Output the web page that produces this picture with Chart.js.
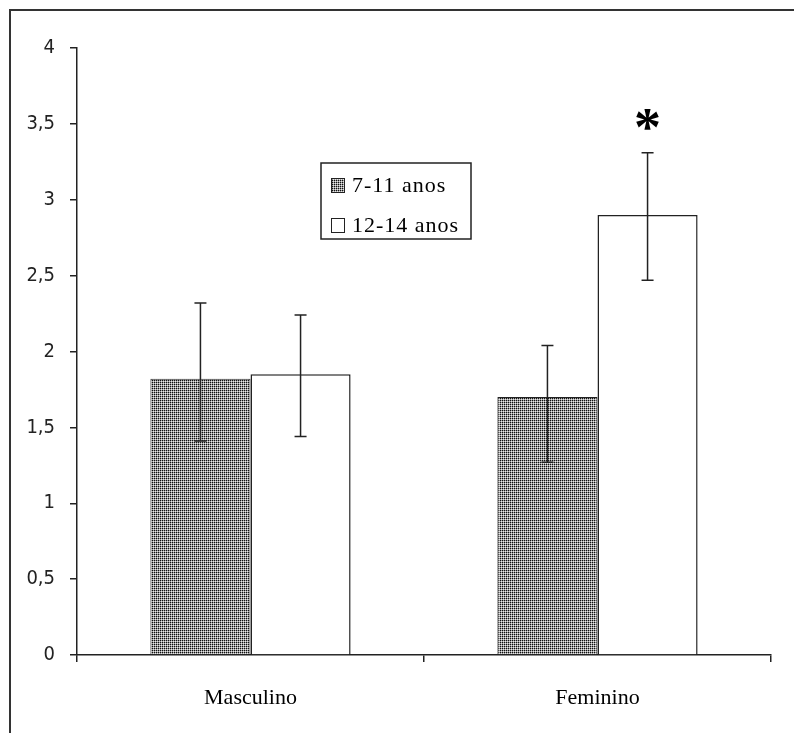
<!DOCTYPE html>
<html>
<head>
<meta charset="utf-8">
<script src="https://cdn.jsdelivr.net/npm/chart.js@4.4.1/dist/chart.umd.min.js"></script>
<style>
  body { margin: 0; background: #fff; overflow: hidden; }
  #frame { position: absolute; left: 9px; top: 9px; width: 900px; height: 900px; border-left: 2px solid #333; border-top: 2px solid #333; }
  #wrap { position: absolute; left: 0; top: 0; width: 794px; height: 733px; }
</style>
</head>
<body>
<div id="frame"></div>
<div id="wrap"><canvas id="myChart" width="794" height="733"></canvas></div>
<script>
// data
const categories = ['Masculino', 'Feminino'];
const seriesNames = ['7-11 anos', '12-14 anos'];
const young = [1.82, 1.70];
const older = [1.85, 2.90];
// error bars (upper / lower arm lengths)
const youngUp = [0.50, 0.34];
const youngDown = [0.41, 0.43];
const olderUp = [0.39, 0.41];
const olderDown = [0.41, 0.43];
const marks = [[null, null], [null, '*']];   // significance marks per category / series

// dotted grey fill for the first series
const makePattern = () => {
  const c = document.createElement('canvas');
  c.width = 2; c.height = 2;
  const g = c.getContext('2d');
  g.fillStyle = '#999'; g.fillRect(0, 0, 2, 2);
  g.fillStyle = '#111'; g.fillRect(0, 0, 1, 1);
  g.fillStyle = '#e8e8e8'; g.fillRect(1, 1, 1, 1);
  return g.createPattern(c, 'repeat');
}
const dotted = makePattern();

const errorBars = {
  id: 'errorBars',
  afterDatasetsDraw(chart) {
    const ctx = chart.ctx;
    const y = chart.scales.y;
    const ups = [youngUp, olderUp];
    const downs = [youngDown, olderDown];
    ctx.save();
    ctx.strokeStyle = '#222';
    ctx.lineWidth = 1.5;
    chart.data.datasets.forEach((ds, di) => {
      chart.getDatasetMeta(di).data.forEach((bar, i) => {
        const v = ds.data[i];
        const top = y.getPixelForValue(v + ups[di][i]), bot = y.getPixelForValue(v - downs[di][i]);
        ctx.beginPath();
        ctx.moveTo(bar.x, top); ctx.lineTo(bar.x, bot);
        ctx.moveTo(bar.x - 6, top); ctx.lineTo(bar.x + 6, top);
        ctx.moveTo(bar.x - 6, bot); ctx.lineTo(bar.x + 6, bot);
        ctx.stroke();
        const m = marks[i][di];
        if (m) {
          ctx.fillStyle = '#000';
          ctx.font = 'bold 54px "Liberation Serif"';
          ctx.textAlign = 'center';
          ctx.textBaseline = 'middle';
          ctx.fillText(m, bar.x, top - 22);
        }
      });
    });
    ctx.restore();
  }
};

const boxLegend = {
  id: 'boxLegend',
  afterDraw(chart) {
    const ctx = chart.ctx;
    const a = chart.chartArea;
    const x0 = a.left + 244, y0 = a.top + 115;
    ctx.save();
    ctx.strokeStyle = '#222';
    ctx.lineWidth = 1.5;
    ctx.fillStyle = '#fff';
    ctx.fillRect(x0, y0, 150, 76);
    ctx.strokeRect(x0, y0, 150, 76);
    ctx.font = '22px "Liberation Serif"';
    ctx.letterSpacing = '1px';
    ctx.textBaseline = 'middle';
    ctx.textAlign = 'left';
    ctx.lineWidth = 1;
    chart.data.datasets.forEach((ds, i) => {
      const cy = y0 + 22 + i * 40;
      ctx.fillStyle = ds.backgroundColor;
      ctx.fillRect(x0 + 10, cy - 7, 13, 14);
      ctx.strokeRect(x0 + 10.5, cy - 6.5, 13, 14);
      ctx.fillStyle = '#000';
      ctx.fillText(ds.label, x0 + 31, cy + 1);
    });
    ctx.restore();
  }
};

const ctx = document.getElementById('myChart').getContext('2d');
const chart = new Chart(ctx, {
  type: 'bar',
  data: {
    labels: categories,
    datasets: [{
      label: seriesNames[0],
      data: young,
      backgroundColor: dotted,
      borderColor: '#222',
      borderWidth: 1,
    }, {
      label: seriesNames[1],
      data: older,
      backgroundColor: '#fff',
      borderColor: '#222',
      borderWidth: 1.5,
    }]
  },
  options: {
    responsive: false,
    animation: false,
    layout: { padding: { left: 20, top: 48, right: 23, bottom: 28 } },
    categoryPercentage: 0.577,
    barPercentage: 1.0,
    plugins: {
      legend: { display: false },
      tooltip: { enabled: false },
    },
    scales: {
      x: {
        afterFit: (s) => { s.height = 50; },
        border: { color: '#222', width: 1.5 },
        grid: { offset: true, drawOnChartArea: false, tickLength: 7, color: '#222', lineWidth: 1.5 },
        ticks: { color: '#000', padding: 23, font: { family: '"Liberation Serif"', size: 22 } },
      },
      y: {
        min: 0,
        max: 4,
        afterFit: (s) => { s.width = 57; },
        border: { color: '#222', width: 1.5 },
        grid: { drawOnChartArea: false, tickLength: 7, color: '#222', lineWidth: 1.5 },
        ticks: {
          stepSize: 0.5,
          color: '#222',
          padding: 15,
          font: { family: '"Liberation Sans Narrow", "DejaVu Sans Condensed", sans-serif', size: 20 },
          callback: (v) => String(v).replace('.', ','),
        },
      }
    }
  },
  plugins: [errorBars, boxLegend]
});
</script>
</body>
</html>
